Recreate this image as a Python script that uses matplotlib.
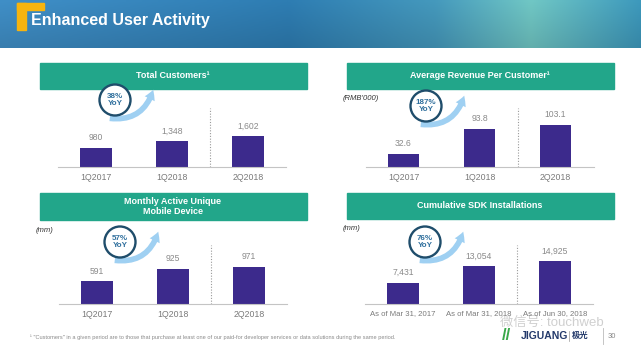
import numpy as np
import matplotlib
matplotlib.use('Agg')
import matplotlib.pyplot as plt
from matplotlib.patches import Rectangle, Circle, FancyArrowPatch

plt.rcParams['font.family'] = ['Liberation Sans', 'Noto Sans CJK SC', 'DejaVu Sans']

W, H = 641, 353

# ---------------------------------------------------------------------------
# Data
# ---------------------------------------------------------------------------
quarters = ['1Q2017', '1Q2018', '2Q2018']
sdk_dates = ['As of Mar 31, 2017', 'As of Mar 31, 2018', 'As of Jun 30, 2018']

total_customers = [980, 1348, 1602]
arpu = [32.6, 93.8, 103.1]
mau_devices = [591, 925, 971]
sdk_installs = [7431, 13054, 14925]

yoy_labels = ['38%', '187%', '57%', '76%']

titles = ['Total Customers\u00b9', 'Average Revenue Per Customer\u00b9',
          'Monthly Active Unique\nMobile Device', 'Cumulative SDK Installations']
units = [None, "(RMB'000)", '(mm)', '(mm)']

# ---------------------------------------------------------------------------
# Colours
# ---------------------------------------------------------------------------
GREEN = '#22a68a'
BAR = '#3c2a8c'
GREY = '#8a8a8a'
CIRCLE = '#1f4d6b'
YOY_TXT = '#2f6f9d'
ARROW = '#9fd0f2'

fig = plt.figure(figsize=(W / 100, H / 100), dpi=100)
fig.patch.set_facecolor('white')

bg = fig.add_axes([0, 0, 1, 1])
bg.axis('off')


def px_axes(x0, y0, x1, y1):
    return fig.add_axes([x0 / W, 1 - y1 / H, (x1 - x0) / W, (y1 - y0) / H])


# --- header band -----------------------------------------------------------
stops = [(0.00, (0.25, 0.56, 0.78)),
         (0.45, (0.18, 0.49, 0.70)),
         (0.68, (0.27, 0.60, 0.74)),
         (0.83, (0.44, 0.78, 0.77)),
         (1.00, (0.24, 0.60, 0.74))]
xs = np.linspace(0, 1, 300)
grad = np.zeros((20, 300, 3))
for c in range(3):
    row = np.interp(xs, [s[0] for s in stops], [s[1][c] for s in stops])
    for r in range(20):
        grad[r, :, c] = row * (1.0 - 0.12 * r / 19)
bg.imshow(grad, extent=[0, W, 48, 0], aspect='auto', zorder=1)
bg.set_xlim(0, W)
bg.set_ylim(H, 0)

bg.add_patch(Rectangle((17, 3), 9, 27, color='#f6b40f', zorder=2))
bg.add_patch(Rectangle((17, 3), 27, 7, color='#f6b40f', zorder=2))
bg.text(31, 21, 'Enhanced User Activity', color='white', fontsize=11.5,
        fontweight='bold', va='center', ha='left', zorder=3)

# --- panels ----------------------------------------------------------------
panels = [
    dict(bx=40, by0=63, by1=89, ax0=58, base=167, ytop=3204, vals=total_customers,
         labels=quarters, fmt='{:,.0f}', circ=(115, 100)),
    dict(bx=347, by0=63, by1=89, ax0=365.5, base=167, ytop=152, vals=arpu,
         labels=quarters, fmt='{:.1f}', circ=(426, 106)),
    dict(bx=40, by0=193, by1=220, ax0=59, base=304, ytop=1627, vals=mau_devices,
         labels=quarters, fmt='{:,.0f}', circ=(120, 242)),
    dict(bx=347, by0=193, by1=219, ax0=365, base=304, ytop=21520, vals=sdk_installs,
         labels=sdk_dates, fmt='{:,.0f}', circ=(425, 242)),
]

for i, p in enumerate(panels):
    # green header box
    bg.add_patch(Rectangle((p['bx'], p['by0']), 267, p['by1'] - p['by0'],
                           color=GREEN, zorder=2))
    bg.text(p['bx'] + 133, (p['by0'] + p['by1']) / 2, titles[i], color='white',
            fontsize=6.5, fontweight='bold', ha='center', va='center',
            linespacing=1.2, zorder=3)
    if units[i]:
        bg.text(p['bx'] - 4, p['by1'] + 10, units[i], fontsize=5.5,
                style='italic', color='#333333', ha='left', va='center', zorder=3)

    # bar axes
    ax = px_axes(p['ax0'], p['base'] - 62, p['ax0'] + 228, p['base'])
    ax.patch.set_alpha(0)
    x = np.arange(len(p['vals']))
    ax.bar(x, p['vals'], width=0.41, color=BAR, zorder=2)
    for xi, v in zip(x, p['vals']):
        ax.annotate(p['fmt'].format(v), (xi, v), xytext=(0, 4),
                    textcoords='offset points', ha='center', va='bottom',
                    fontsize=6.2, color=GREY)
    ax.axvline(1.5, ymin=0, ymax=0.95, color='#9a9a9a', linestyle=(0, (1, 1.5)),
               linewidth=0.8)
    ax.set_xlim(-0.5, 2.5)
    ax.set_ylim(0, p['ytop'])
    ax.set_xticks(x)
    ax.set_xticklabels(p['labels'], fontsize=5.6 if i == 3 else 6.3, color='#7a7a7a')
    ax.tick_params(axis='x', length=0, pad=4)
    ax.set_yticks([])
    for s in ('top', 'right', 'left'):
        ax.spines[s].set_visible(False)
    ax.spines['bottom'].set_color('#c4c4c4')
    ax.spines['bottom'].set_linewidth(0.8)

    # YoY swoosh + circle
    cx, cy = p['circ']
    bg.add_patch(FancyArrowPatch((cx - 8, cy + 18), (cx + 39, cy - 13),
                                 connectionstyle='arc3,rad=0.45',
                                 arrowstyle='simple,head_width=8,head_length=7,tail_width=4',
                                 color=ARROW, lw=0, zorder=3))
    bg.add_patch(Circle((cx, cy), 15.5, facecolor='white', edgecolor=CIRCLE,
                        linewidth=1.7, zorder=4))
    bg.text(cx, cy, yoy_labels[i] + '\nYoY', color=YOY_TXT, fontsize=5.8,
            fontweight='bold', ha='center', va='center', linespacing=1.15, zorder=5)

# --- footer ----------------------------------------------------------------
bg.text(30, 337, '\u00b9 "Customers" in a given period are to those that purchase at least '
        'one of our paid-for developer services or data solutions during the same period.',
        fontsize=4.1, color='#8a8a8a', ha='left', va='center', zorder=3)
bg.text(500, 323, '微信号: touchweb', fontsize=9.5, color='#c4c4c4', alpha=0.8,
        ha='left', va='center', zorder=3)
bg.text(506, 336, '//', fontsize=12, fontweight='bold', color='#3aa84a',
        ha='center', va='center', zorder=4)
bg.text(521, 336, 'JIGUANG', fontsize=7.5, fontweight='bold', color='#243a6b',
        ha='left', va='center', zorder=4)
bg.plot([569, 569], [331, 341], color='#999999', linewidth=0.5, zorder=4)
bg.text(572, 336, '极光', fontsize=6, fontweight='bold', color='#243a6b',
        ha='left', va='center', zorder=4)
bg.plot([603, 603], [328, 344], color='#bbbbbb', linewidth=0.6, zorder=4)
bg.text(612, 336, '30', fontsize=5.5, color='#888888', ha='center', va='center', zorder=4)

fig.savefig('out.png', dpi=100)
